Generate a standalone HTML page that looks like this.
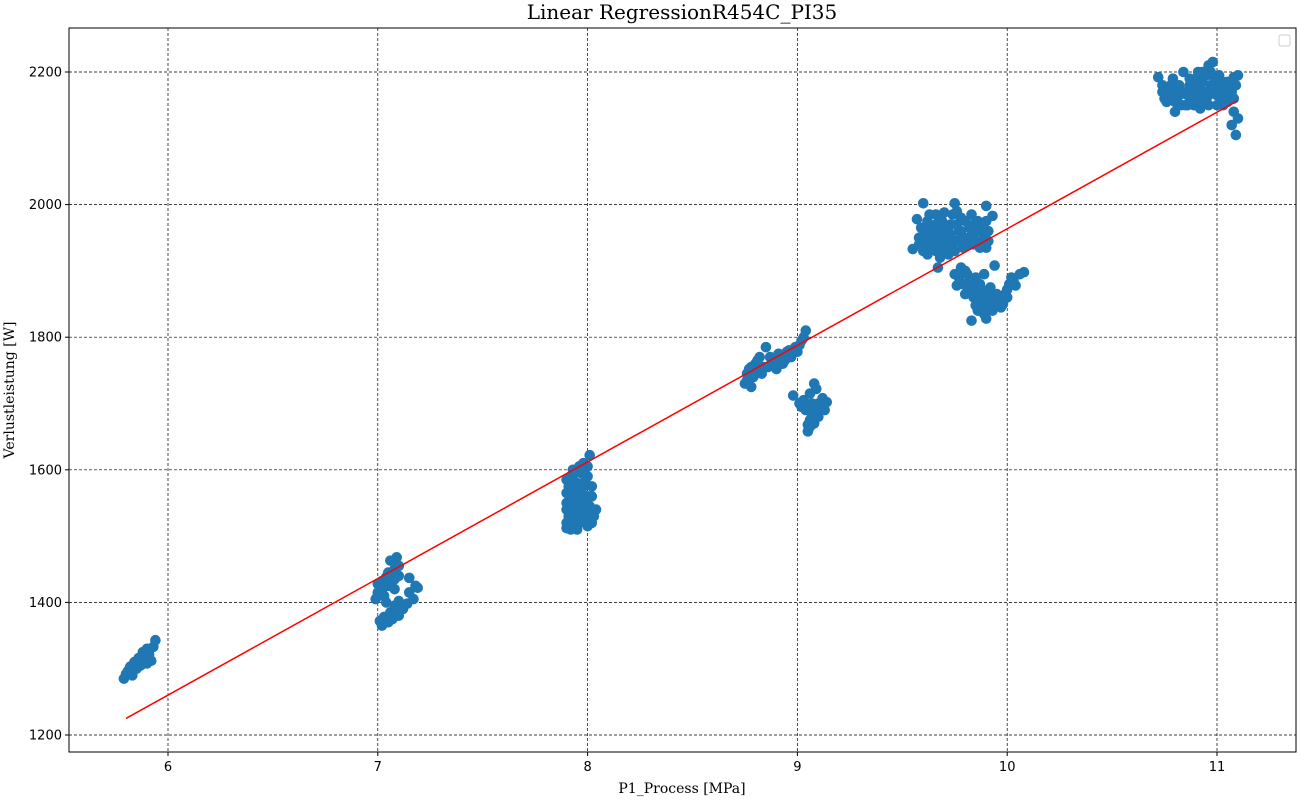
<!DOCTYPE html>
<html><head><meta charset="utf-8">
<style>
body{margin:0;background:#fff;width:1300px;height:800px;overflow:hidden}
svg text{fill:#000}
.tick{font-family:"DejaVu Sans","Liberation Sans",sans-serif;font-size:13px}
.serif{font-family:"DejaVu Serif","Liberation Serif",serif}
</style></head>
<body>
<svg id="chart" width="1300" height="800"></svg>
<script>
const xTicks=[6,7,8,9,10,11];
const yTicks=[1200,1400,1600,1800,2000,2200];
const fitLine=[[5.8,1225],[11.1,2157]];
const pointsX=[5.79,5.8,5.81,5.83,5.85,5.84,5.86,5.87,5.88,5.89,5.9,5.91,5.92,5.93,5.94,5.82,5.88,5.9,
6.99,7.0,7.0,7.01,7.02,7.03,7.04,7.05,7.05,7.06,7.07,7.08,7.09,7.1,7.1,7.08,7.03,
7.01,7.02,7.03,7.05,7.06,7.07,7.08,7.1,7.12,7.14,7.15,7.17,7.18,7.19,7.15,7.1,7.04,
7.9,7.91,7.9,7.91,7.92,7.93,7.92,7.94,7.95,7.96,7.97,7.98,7.98,7.99,8.0,8.0,8.01,8.01,8.02,8.03,8.04,7.97,7.95,
8.75,8.76,8.77,8.78,8.79,8.8,8.82,8.83,8.85,8.86,8.88,8.9,8.92,8.95,8.97,8.99,9.0,9.02,9.03,9.04,8.93,
8.98,9.01,9.02,9.03,9.04,9.05,9.05,9.06,9.07,9.08,9.08,9.09,9.1,9.11,9.12,9.13,9.14,9.06,
9.55,9.57,9.58,9.6,9.6,9.61,9.62,9.63,9.64,9.65,9.66,9.67,9.68,9.69,9.7,9.71,9.72,9.73,9.75,9.76,9.77,9.78,9.8,9.82,9.84,9.86,9.88,9.9,9.91,9.93,9.9,9.62,9.7,9.74,9.66,
9.75,9.76,9.78,9.8,9.82,9.83,9.85,9.86,9.88,9.89,9.9,9.92,9.94,9.95,9.97,9.99,10.0,10.02,10.04,10.06,10.08,9.93,9.87,
10.72,10.74,10.76,10.78,10.8,10.82,10.84,10.85,10.87,10.88,10.9,10.92,10.93,10.95,10.96,10.97,10.98,11.0,11.01,11.02,11.03,11.05,11.06,11.07,11.08,11.09,11.1,11.08,11.1,10.9,10.8];
const pointsY=[1285,1292,1297,1290,1300,1310,1316,1305,1325,1318,1330,1322,1312,1333,1343,1303,1310,1308,
1405,1415,1428,1420,1432,1410,1438,1445,1425,1463,1432,1450,1468,1440,1455,1420,1425,
1372,1365,1378,1370,1385,1375,1395,1380,1390,1398,1415,1405,1425,1422,1437,1402,1400,
1512,1530,1550,1575,1590,1600,1560,1540,1510,1605,1570,1525,1610,1555,1515,1590,1622,1545,1575,1530,1540,1545,1580,
1730,1745,1752,1725,1740,1760,1770,1745,1785,1755,1765,1752,1770,1778,1770,1785,1778,1795,1800,1810,1760,
1712,1700,1695,1705,1690,1668,1658,1675,1700,1730,1670,1722,1680,1695,1708,1690,1702,1715,
1933,1978,1950,1965,2002,1940,1925,1985,1955,1945,1970,1905,1935,1960,1988,1950,1925,1970,2002,1945,1960,1980,1940,1965,1955,1975,1945,1998,1960,1983,1935,1960,1960,1940,1930,
1895,1878,1905,1865,1885,1825,1848,1870,1840,1895,1828,1860,1908,1850,1845,1865,1872,1890,1878,1895,1898,1855,1860,
2192,2170,2155,2180,2140,2165,2200,2150,2180,2160,2190,2170,2200,2155,2210,2180,2215,2165,2195,2175,2150,2185,2160,2120,2140,2105,2130,2192,2195,2165,2175];
const fillX=[7.9,7.9,7.9,7.9,7.92,7.92,7.93,7.93,7.94,7.94,7.95,7.96,7.96,7.97,7.98,7.99,7.99,8.0,8.0,8.01,8.02,7.93,7.96,7.98,8.02,
8.76,8.78,8.8,8.81,8.84,8.87,8.89,8.91,8.94,8.96,9.01,8.78,8.82,
9.02,9.04,9.06,9.07,9.09,9.1,9.07,
9.58,9.59,9.6,9.62,9.63,9.64,9.65,9.66,9.67,9.68,9.69,9.7,9.71,9.72,9.73,9.74,9.75,9.76,9.77,9.78,9.79,9.8,9.81,9.82,9.83,9.84,9.85,9.86,9.87,9.88,9.89,9.9,9.91,9.62,9.68,9.72,9.78,9.84,9.6,9.76,
9.77,9.79,9.8,9.82,9.84,9.85,9.86,9.87,9.88,9.9,9.91,9.92,9.93,9.95,9.96,9.98,10.0,10.01,10.03,9.84,9.9,9.81,9.89,
10.74,10.76,10.78,10.79,10.8,10.82,10.83,10.84,10.86,10.87,10.88,10.89,10.9,10.91,10.92,10.93,10.94,10.95,10.96,10.97,10.98,10.99,11.0,11.0,11.01,11.02,11.03,11.04,11.05,11.06,11.07,11.08,11.09,10.86,10.92,10.96,10.8,10.75,
7.0,7.02,7.04,7.06,7.08,7.03,7.06,7.09,7.11];
const fillY=[1520,1540,1565,1585,1510,1545,1520,1570,1555,1595,1530,1520,1560,1595,1540,1585,1525,1560,1605,1530,1560,1580,1540,1575,1520,
1735,1755,1745,1765,1755,1770,1760,1775,1765,1780,1788,1740,1750,
1702,1698,1665,1680,1690,1700,1690,
1940,1965,1930,1975,1945,1935,1965,1985,1950,1920,1975,1945,1930,1965,1955,1985,1930,1970,1945,1960,1935,1975,1950,1940,1985,1970,1945,1960,1935,1965,1950,1975,1945,1950,1960,1940,1950,1940,1955,1990,
1890,1880,1900,1870,1860,1890,1840,1880,1850,1870,1845,1875,1840,1865,1855,1850,1860,1880,1885,1875,1855,1895,1835,
2180,2170,2160,2190,2155,2180,2150,2170,2165,2190,2175,2150,2180,2200,2160,2185,2170,2195,2165,2200,2175,2190,2185,2150,2170,2160,2185,2170,2155,2180,2170,2160,2180,2150,2145,2150,2170,2160,
1410,1420,1430,1440,1435,1375,1378,1385,1395];

const svg=document.getElementById('chart');
const NS='http://www.w3.org/2000/svg';
const L=69,R=1296,T=28,B=752;
const sx=v=>168+(v-6)*209.8;
const sy=v=>735-(v-1200)*0.663;
function mk(tag,attrs,parent){const e=document.createElementNS(NS,tag);for(const k in attrs)e.setAttribute(k,attrs[k]);(parent||svg).appendChild(e);return e;}

const grid=mk('g',{});


xTicks.forEach(t=>{
  const l=mk('line',{x1:sx(t),x2:sx(t),y1:T,y2:B,stroke:'#000','stroke-width':0.7,'stroke-dasharray':'3,2'},grid);
  
  
  mk('line',{x1:sx(t),x2:sx(t),y1:B,y2:B+4,stroke:'#000'});
  const tx=mk('text',{x:sx(t),y:B+19,'text-anchor':'middle',class:'tick'});
  tx.textContent=t;
  
  
});
yTicks.forEach(t=>{
  const l=mk('line',{x1:L,x2:R,y1:sy(t),y2:sy(t),stroke:'#000','stroke-width':0.7,'stroke-dasharray':'3,2'},grid);
  
  
  mk('line',{x1:L-4,x2:L,y1:sy(t),y2:sy(t),stroke:'#000'});
  const tx=mk('text',{x:L-7,y:sy(t)+4.5,'text-anchor':'end',class:'tick'});
  tx.textContent=t;
  
  
});

const pts=mk('g',{fill:'#1f77b4'});


const allX=pointsX.concat(fillX), allY=pointsY.concat(fillY);
allX.forEach((x,i)=>{
  const c=mk('circle',{cx:sx(x),cy:sy(allY[i]),r:5.3},pts);
  
  
});

const fl=mk('line',{x1:sx(fitLine[0][0]),y1:sy(fitLine[0][1]),x2:sx(fitLine[1][0]),y2:sy(fitLine[1][1]),stroke:'#ff0000','stroke-width':1.5});



const fr=mk('rect',{x:L,y:T,width:R-L,height:B-T,fill:'none',stroke:'#000','stroke-width':1});



const lg=mk('rect',{x:1279,y:35,width:11,height:11,rx:2,fill:'#fff',stroke:'#ccc','stroke-width':1});



const title=mk('text',{x:682,y:19,'text-anchor':'middle',class:'serif','font-size':20});
title.textContent='Linear RegressionR454C_PI35';



const xl=mk('text',{x:682,y:793,'text-anchor':'middle',class:'serif','font-size':14});
xl.textContent='P1_Process [MPa]';



const yl=mk('text',{x:0,y:0,'text-anchor':'middle',class:'serif','font-size':14,transform:'translate(14,390) rotate(-90)'});
yl.textContent='Verlustleistung [W]';


</script>
</body></html>
